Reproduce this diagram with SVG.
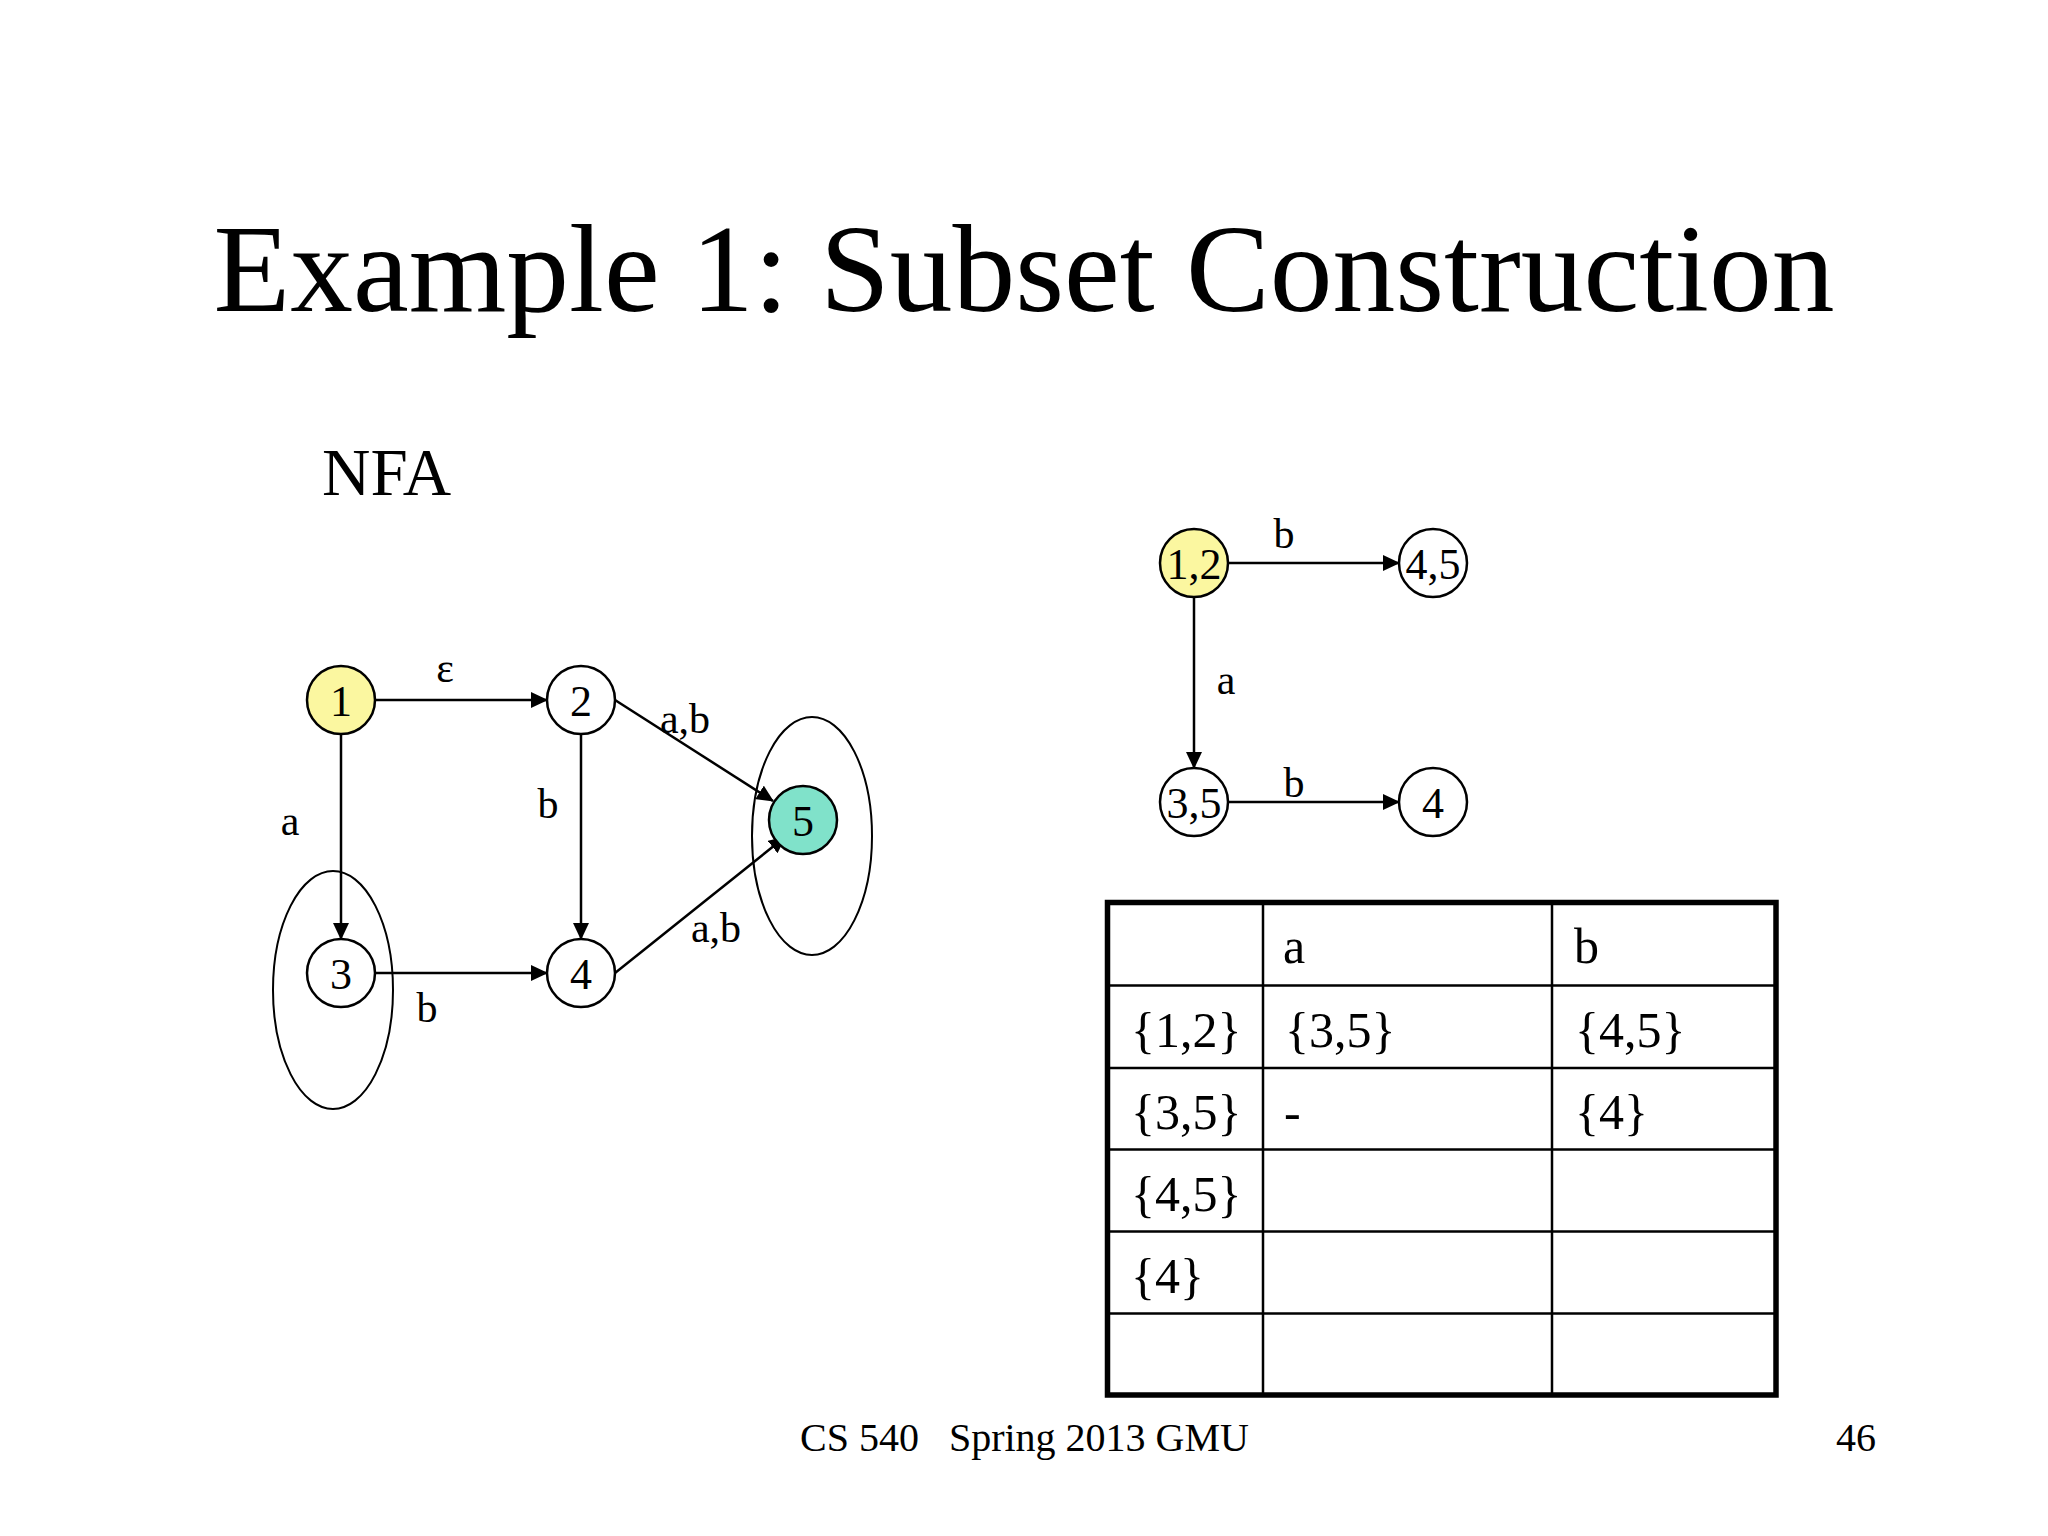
<svg xmlns="http://www.w3.org/2000/svg" width="2048" height="1536" viewBox="0 0 2048 1536">
<style>
text { font-family: "Liberation Serif", "Times New Roman", serif; fill: #000; }
.node { fill: #fff; stroke: #000; stroke-width: 2.5; }
.start { fill: #FBF7A0; }
.accept { fill: #80E2CA; }
.nl { font-size: 44px; text-anchor: middle; }
.el { font-size: 42px; text-anchor: middle; }
.edge { fill: none; stroke: #000; stroke-width: 2.5; marker-end: url(#arrow); }
.group { fill: none; stroke: #000; stroke-width: 2; }
.cell { font-size: 50px; }
.grid { stroke: #000; stroke-width: 2.5; }
</style>
<defs>
<marker id="arrow" markerUnits="userSpaceOnUse" markerWidth="18" markerHeight="16" refX="16" refY="8" orient="auto" viewBox="0 0 18 16">
<path d="M0,0 L17,8 L0,16 z" fill="#000"/>
</marker>
</defs>
<rect width="2048" height="1536" fill="#fff"/>

<text id="title" x="1024" y="311" font-size="125.5" text-anchor="middle">Example 1: Subset Construction</text>
<text id="nfa-label" x="322" y="495" font-size="67">NFA</text>

<g id="connectors">
<path class="edge" d="M375,700 L547,700"/>
<path class="edge" d="M341,734 L341,939"/>
<path class="edge" d="M581,734 L581,939"/>
<path class="edge" d="M375,973 L547,973"/>
<path class="edge" d="M615,700 L773,801"/>
<path class="edge" d="M615,973 L785,837"/>
<path class="edge" d="M1228,563 L1399,563"/>
<path class="edge" d="M1194,597 L1194,768"/>
<path class="edge" d="M1228,802 L1399,802"/>
</g>

<g id="edge-labels">
<text class="el" x="445" y="682">ε</text>
<text class="el" x="290" y="835">a</text>
<text class="el" x="548" y="818">b</text>
<text class="el" x="685" y="733">a,b</text>
<text class="el" x="716" y="942">a,b</text>
<text class="el" x="427" y="1022">b</text>
<text class="el" x="1284" y="548">b</text>
<text class="el" x="1226" y="694">a</text>
<text class="el" x="1294" y="797">b</text>
</g>

<g id="nfa-group-3"><ellipse class="group" cx="333" cy="990" rx="60" ry="119"/></g>
<g id="nfa-group-5"><ellipse class="group" cx="812" cy="836" rx="60" ry="119"/></g>

<g id="nfa-1"><circle class="node start" cx="341" cy="700" r="34"/><text class="nl" x="341" y="716">1</text></g>
<g id="nfa-2"><circle class="node" cx="581" cy="700" r="34"/><text class="nl" x="581" y="716">2</text></g>
<g id="nfa-3"><circle class="node" cx="341" cy="973" r="34"/><text class="nl" x="341" y="989">3</text></g>
<g id="nfa-4"><circle class="node" cx="581" cy="973" r="34"/><text class="nl" x="581" y="989">4</text></g>
<g id="nfa-5"><circle class="node accept" cx="803" cy="820" r="34"/><text class="nl" x="803" y="836">5</text></g>

<g id="dfa-12"><circle class="node start" cx="1194" cy="563" r="34"/><text class="nl" x="1194" y="579">1,2</text></g>
<g id="dfa-45"><circle class="node" cx="1433" cy="563" r="34"/><text class="nl" x="1433" y="579">4,5</text></g>
<g id="dfa-35"><circle class="node" cx="1194" cy="802" r="34"/><text class="nl" x="1194" y="818">3,5</text></g>
<g id="dfa-4"><circle class="node" cx="1433" cy="802" r="34"/><text class="nl" x="1433" y="818">4</text></g>

<g id="table">
<line class="grid" x1="1263" y1="902.5" x2="1263" y2="1395"/>
<line class="grid" x1="1552" y1="902.5" x2="1552" y2="1395"/>
<line class="grid" x1="1107.5" y1="985.5" x2="1776" y2="985.5"/>
<line class="grid" x1="1107.5" y1="1068" x2="1776" y2="1068"/>
<line class="grid" x1="1107.5" y1="1149.5" x2="1776" y2="1149.5"/>
<line class="grid" x1="1107.5" y1="1231.5" x2="1776" y2="1231.5"/>
<line class="grid" x1="1107.5" y1="1313.5" x2="1776" y2="1313.5"/>
<rect x="1107.5" y="902.5" width="668.5" height="492.5" fill="none" stroke="#000" stroke-width="5.5"/>
<text class="cell" x="1283" y="963">a</text>
<text class="cell" x="1574" y="963">b</text>
<text class="cell" x="1131" y="1047">{1,2}</text>
<text class="cell" x="1285" y="1047">{3,5}</text>
<text class="cell" x="1575" y="1047">{4,5}</text>
<text class="cell" x="1131" y="1129">{3,5}</text>
<text class="cell" x="1284" y="1129">-</text>
<text class="cell" x="1575" y="1129">{4}</text>
<text class="cell" x="1131" y="1211">{4,5}</text>
<text class="cell" x="1131" y="1293">{4}</text>
</g>

<g id="footer">
<text x="800" y="1451" font-size="40" xml:space="preserve">CS 540   Spring 2013 GMU</text>
<text x="1876" y="1451" font-size="40" text-anchor="end">46</text>
</g>
</svg>
